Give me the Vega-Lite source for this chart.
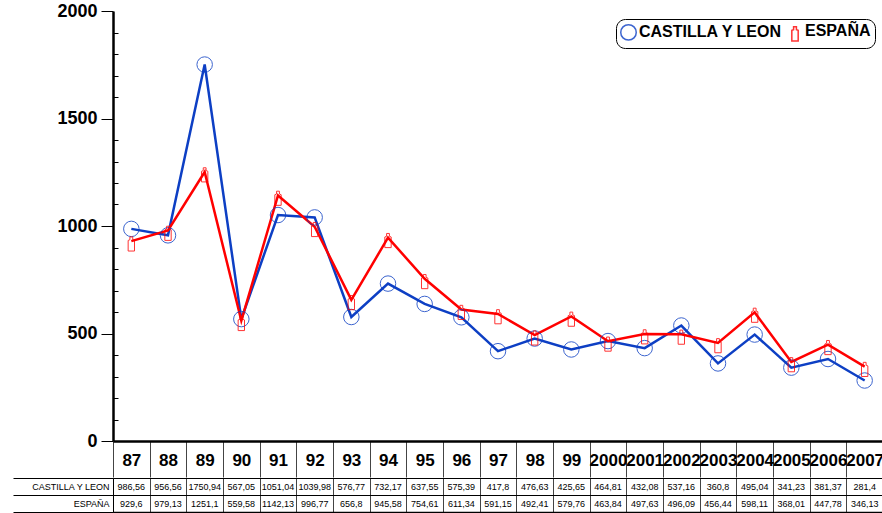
{
  "$schema": "https://vega.github.io/schema/vega-lite/v6.json",
  "padding": {"left": 12, "top": 2, "right": 0, "bottom": 0},
  "background": "white",
  "spacing": -5,
  "config": {
    "view": {"stroke": null},
    "locale": {"number": {"decimal": ",", "thousands": "", "grouping": [3], "currency": ["", ""]}},
    "font": "Liberation Sans"
  },
  "datasets": {
    "d": [
      {"year": "87", "series": "CASTILLA Y LEON", "value": 986.56},
      {"year": "88", "series": "CASTILLA Y LEON", "value": 956.56},
      {"year": "89", "series": "CASTILLA Y LEON", "value": 1750.94},
      {"year": "90", "series": "CASTILLA Y LEON", "value": 567.05},
      {"year": "91", "series": "CASTILLA Y LEON", "value": 1051.04},
      {"year": "92", "series": "CASTILLA Y LEON", "value": 1039.98},
      {"year": "93", "series": "CASTILLA Y LEON", "value": 576.77},
      {"year": "94", "series": "CASTILLA Y LEON", "value": 732.17},
      {"year": "95", "series": "CASTILLA Y LEON", "value": 637.55},
      {"year": "96", "series": "CASTILLA Y LEON", "value": 575.39},
      {"year": "97", "series": "CASTILLA Y LEON", "value": 417.8},
      {"year": "98", "series": "CASTILLA Y LEON", "value": 476.63},
      {"year": "99", "series": "CASTILLA Y LEON", "value": 425.65},
      {"year": "2000", "series": "CASTILLA Y LEON", "value": 464.81},
      {"year": "2001", "series": "CASTILLA Y LEON", "value": 432.08},
      {"year": "2002", "series": "CASTILLA Y LEON", "value": 537.16},
      {"year": "2003", "series": "CASTILLA Y LEON", "value": 360.8},
      {"year": "2004", "series": "CASTILLA Y LEON", "value": 495.04},
      {"year": "2005", "series": "CASTILLA Y LEON", "value": 341.23},
      {"year": "2006", "series": "CASTILLA Y LEON", "value": 381.37},
      {"year": "2007", "series": "CASTILLA Y LEON", "value": 281.4},
      {"year": "87", "series": "ESPAÑA", "value": 929.6},
      {"year": "88", "series": "ESPAÑA", "value": 979.13},
      {"year": "89", "series": "ESPAÑA", "value": 1251.1},
      {"year": "90", "series": "ESPAÑA", "value": 559.58},
      {"year": "91", "series": "ESPAÑA", "value": 1142.13},
      {"year": "92", "series": "ESPAÑA", "value": 996.77},
      {"year": "93", "series": "ESPAÑA", "value": 656.8},
      {"year": "94", "series": "ESPAÑA", "value": 945.58},
      {"year": "95", "series": "ESPAÑA", "value": 754.61},
      {"year": "96", "series": "ESPAÑA", "value": 611.34},
      {"year": "97", "series": "ESPAÑA", "value": 591.15},
      {"year": "98", "series": "ESPAÑA", "value": 492.41},
      {"year": "99", "series": "ESPAÑA", "value": 579.76},
      {"year": "2000", "series": "ESPAÑA", "value": 463.84},
      {"year": "2001", "series": "ESPAÑA", "value": 497.63},
      {"year": "2002", "series": "ESPAÑA", "value": 496.09},
      {"year": "2003", "series": "ESPAÑA", "value": 456.44},
      {"year": "2004", "series": "ESPAÑA", "value": 598.11},
      {"year": "2005", "series": "ESPAÑA", "value": 368.01},
      {"year": "2006", "series": "ESPAÑA", "value": 447.78},
      {"year": "2007", "series": "ESPAÑA", "value": 346.13}
    ]
  },
  "vconcat": [
    {
      "width": 770,
      "height": 430,
      "data": {"name": "d"},
      "resolve": {"axis": {"y": "independent"}},
      "encoding": {
        "x": {
          "field": "year", "type": "ordinal", "sort": null,
          "scale": {"paddingInner": 0, "paddingOuter": 0},
          "axis": {
            "title": null, "labelAngle": 0, "tickBand": "extent", "tickSize": 36,
            "tickColor": "#444", "tickWidth": 1, "domainColor": "black", "domainWidth": 2.5,
            "labelFontSize": 17, "labelFontWeight": "bold", "labelColor": "black",
            "labelPadding": -25, "labelFont": "Liberation Sans"
          }
        },
        "color": {
          "field": "series", "type": "nominal",
          "scale": {"domain": ["CASTILLA Y LEON", "ESPAÑA"], "range": ["#0d3fc4", "#ff0000"]},
          "legend": {
            "title": null, "orient": "top-right", "direction": "horizontal", "offset": 8,
            "fillColor": "white", "strokeColor": "black", "cornerRadius": 9,
            "padding": 4, "labelFontSize": 16, "labelFontWeight": "bold", "labelColor": "black",
            "symbolSize": 150, "symbolStrokeWidth": 1.5, "columnPadding": 4, "labelOffset": 2,
            "symbolFillColor": "transparent"
          }
        }
      },
      "layer": [
        {
          "mark": {"type": "line", "strokeWidth": 2.5},
          "encoding": {
            "y": {
              "field": "value", "type": "quantitative",
              "scale": {"domain": [0, 2000], "nice": false},
              "axis": {
                "title": null, "grid": false, "orient": "left",
                "values": [0, 500, 1000, 1500, 2000],
                "tickSize": 12, "tickColor": "black", "domainColor": "black", "domainWidth": 2.5,
                "labelFontSize": 18, "labelFontWeight": "bold", "labelColor": "black",
                "labelPadding": 4
              }
            }
          }
        },
        {
          "mark": {"type": "point", "filled": false, "strokeWidth": 1, "opacity": 0.8},
          "encoding": {
            "y": {
              "field": "value", "type": "quantitative",
              "scale": {"domain": [0, 2000], "nice": false},
              "axis": {
                "title": null, "grid": false, "orient": "left", "labels": false, "domain": false,
                "values": [100,200,300,400,600,700,800,900,1100,1200,1300,1400,1600,1700,1800,1900],
                "tickSize": -5, "tickColor": "black"
              }
            },
            "shape": {
              "field": "series", "type": "nominal",
              "scale": {"domain": ["CASTILLA Y LEON", "ESPAÑA"], "range": ["circle", "M -0.2 -0.6 L 0.2 -0.6 L 0.2 -0.2 L 0.45 -0.1 L 0.45 1.4 L -0.45 1.4 L -0.45 -0.1 L -0.2 -0.2 Z"]}
            },
            "size": {
              "field": "series", "type": "nominal", "legend": null,
              "scale": {"domain": ["CASTILLA Y LEON", "ESPAÑA"], "range": [240, 200]}
            }
          }
        }
      ]
    },
    {
      "width": 770,
      "height": 34,
      "data": {"name": "d"},
      "mark": {"type": "text", "fontSize": 9, "font": "Liberation Sans", "color": "black"},
      "encoding": {
        "x": {
          "field": "year", "type": "ordinal", "sort": null,
          "scale": {"paddingInner": 0, "paddingOuter": 0},
          "axis": {"title": null, "labels": false, "ticks": false, "domain": true, "domainColor": "black", "domainWidth": 1.5, "grid": true, "gridColor": "#444", "gridWidth": 1, "tickBand": "extent"}
        },
        "y": {
          "field": "series", "type": "nominal",
          "sort": ["CASTILLA Y LEON", "ESPAÑA"],
          "scale": {"paddingInner": 0, "paddingOuter": 0},
          "axis": {
            "title": null, "tickBand": "extent", "tickSize": 100, "tickColor": "black", "tickWidth": 1,
            "grid": true, "gridColor": "black", "gridWidth": 1, "domainColor": "black",
            "labelPadding": -96, "labelFontSize": 9, "labelFont": "Liberation Sans", "labelColor": "black"
          }
        },
        "text": {"field": "value", "type": "quantitative", "format": ".6~g"}
      }
    }
  ]
}
